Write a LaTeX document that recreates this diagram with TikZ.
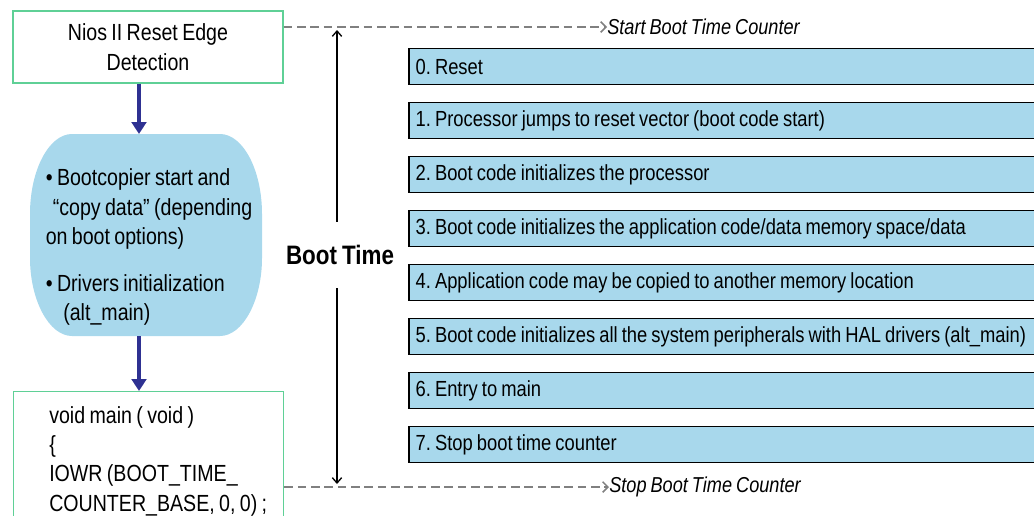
\documentclass[tikz,border=0pt]{standalone}
\usepackage{fontspec}
\setmainfont{Liberation Sans}[FakeStretch=0.84, WordSpace=0.8]
\usetikzlibrary{arrows.meta,positioning,calc}
\definecolor{boxblue}{RGB}{168,216,236}
\definecolor{boxgreen}{RGB}{95,208,150}
\definecolor{arrnavy}{RGB}{46,49,146}
\frenchspacing
\tikzset{
	greenbox/.style={rectangle, draw=boxgreen, line width=1.1pt, fill=white},
	leftfont/.style={font=\fontsize{17.5}{22}\selectfont},
	stepbox/.style={rectangle, draw=black, line width=1.4pt, fill=boxblue, anchor=west,
		minimum width=480pt, minimum height=27pt, text width=470pt, inner xsep=5pt,
		align=flush left, font=\fontsize{16.4}{18}\selectfont},
	navyarr/.style={-{Triangle[length=9pt,width=11pt]}, line width=3pt, draw=arrnavy},
	countarr/.style={-{Straight Barb[length=4pt,width=8pt]}, draw=gray, line width=1.1pt,
		dash pattern=on 6.5pt off 3.5pt},
	timearr/.style={-{Straight Barb[length=4pt,width=7pt]}, line width=1pt},
	countlabel/.style={anchor=west, inner sep=0pt, font=\fontsize{16.2}{18}\selectfont\itshape}
}
\begin{document}
\begin{tikzpicture}[x=0.75pt, y=-0.75pt]
			\useasboundingbox (0,0) rectangle (1034,515);
			\clip (0,0) rectangle (1034,515);
			\node[greenbox, leftfont, minimum width=202.5pt, minimum height=54pt, align=center] (resetdet) at (148,47) {Nios II Reset Edge\\Detection};
			\fill[boxblue] (72,134) -- (220,134) .. controls (243,134) and (262,170) .. (262,214) -- (262,258)
				.. controls (262,300) and (243,336) .. (220,336) -- (72,336)
				.. controls (49,336) and (30,300) .. (30,258) -- (30,214)
				.. controls (30,170) and (49,134) .. (72,134) -- cycle;
			\node[leftfont, align=left] (bootcopy) at (149,247) {\textbullet{} Bootcopier start and\\
				\hspace{0.3em}“copy data” (depending\\
				on boot options)\\[13pt]
				\textbullet{} Drivers initialization\\
				\hspace{0.75em}(alt\_main)};
			\coordinate (blobtop) at (139,134);
			\coordinate (blobbot) at (139,336);
			\node[greenbox, anchor=north west, minimum width=202.5pt, minimum height=97.5pt] (mainbox) at (13,391) {};
			\node[leftfont, align=left, anchor=north west, inner sep=0pt] (maincode) at (49,406) {void main ( void )\\
				\{\\
				IOWR (BOOT\_TIME\_\\
				COUNTER\_BASE, 0, 0) ;};
			\draw[navyarr] (resetdet.south -| blobtop) -- (blobtop);
			\draw[navyarr] (blobbot) -- (blobbot |- mainbox.north);
			\node[font=\fontsize{20}{24}\selectfont\bfseries, minimum height=49.5pt, inner sep=0pt] (boottime) at (340,255) {Boot Time};
			\coordinate (timetop) at (337,30);
			\coordinate (timebot) at (337,484);
			\draw[timearr] (boottime.north -| timetop) -- (timetop);
			\draw[timearr] (boottime.south -| timebot) -- (timebot);
			\node[countlabel] (startlbl) at (607,27) {Start Boot Time Counter};
			\node[countlabel] (stoplbl) at (609,487) {Stop Boot Time Counter};
			\draw[countarr] (resetdet.east |- startlbl) -- (startlbl.west);
			\draw[countarr] (mainbox.east |- stoplbl) -- (stoplbl.west);
			\foreach \i/\txt in {0/{0. Reset},
				1/{1. Processor jumps to reset vector (boot code start)},
				2/{2. Boot code initializes the processor},
				3/{3. Boot code initializes the application code/data memory space/data},
				4/{4. Application code may be copied to another memory location},
				5/{5. Boot code initializes all the system peripherals with HAL drivers (alt\_main)},
				6/{6. Entry to main},
				7/{7. Stop boot time counter}}
				\node[stepbox] (step\i) at (408,66.5+54*\i) {\txt};
		\end{tikzpicture}
\end{document}
